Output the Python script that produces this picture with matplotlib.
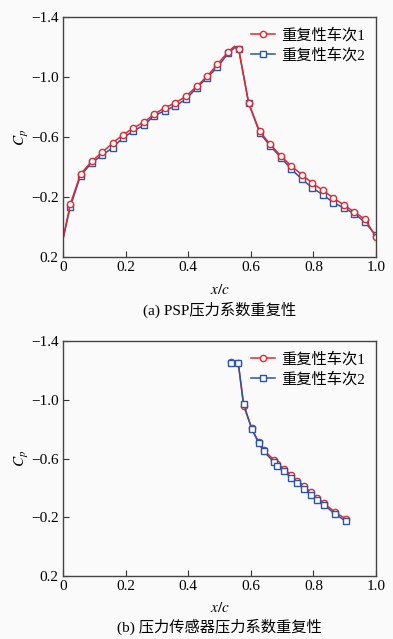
import matplotlib
matplotlib.use("Agg")
import matplotlib.pyplot as plt

plt.rcParams["font.family"] = ["Liberation Serif", "Noto Sans CJK SC"]
plt.rcParams["mathtext.fontset"] = "stix"
plt.rcParams["axes.unicode_minus"] = True

# ── panel (a): PSP ──────────────────────────────────────────────────────────
PSP_X = [0.0, 0.023, 0.056, 0.092, 0.125, 0.159, 0.192, 0.225, 0.259, 0.292,
         0.325, 0.359, 0.392, 0.427, 0.46, 0.493, 0.527, 0.548, 0.561, 0.593,
         0.628, 0.662, 0.696, 0.729, 0.764, 0.797, 0.83, 0.864, 0.897, 0.931,
         0.965, 0.999]
PSP_RUN1 = [0.08, -0.151, -0.353, -0.438, -0.498, -0.56, -0.615, -0.66, -0.70, -0.753,
            -0.795, -0.827, -0.871, -0.937, -1.004, -1.084, -1.167, -1.205, -1.189, -0.827,
            -0.638, -0.551, -0.473, -0.407, -0.347, -0.291, -0.245, -0.193, -0.147, -0.10,
            -0.051, 0.064]
PSP_RUN2 = [0.08, -0.133, -0.343, -0.428, -0.478, -0.53, -0.595, -0.64, -0.68, -0.743,
            -0.775, -0.807, -0.851, -0.927, -0.994, -1.064, -1.157, -1.195, -1.189, -0.827,
            -0.628, -0.541, -0.463, -0.387, -0.317, -0.261, -0.215, -0.163, -0.127, -0.09,
            -0.031, 0.054]
PSP_NOMARK = [0, 17]   # indices drawn without markers

# ── panel (b): pressure transducers ─────────────────────────────────────────
KUL_X = [0.537, 0.56, 0.577, 0.603, 0.625, 0.641, 0.674, 0.685, 0.707, 0.728,
         0.749, 0.77, 0.791, 0.81, 0.833, 0.868, 0.904]
KUL_RUN1 = [-1.258, -1.25, -0.96, -0.805, -0.712, -0.658, -0.59, -0.562, -0.53, -0.488,
            -0.45, -0.414, -0.371, -0.334, -0.298, -0.235, -0.189]
KUL_RUN2 = [-1.248, -1.248, -0.971, -0.803, -0.704, -0.650, -0.575, -0.55, -0.516, -0.47,
            -0.432, -0.395, -0.352, -0.32, -0.286, -0.224, -0.173]

LABELS = ["重复性车次1", "重复性车次2"]
XTICKS = [0, 0.2, 0.4, 0.6, 0.8, 1.0]
XTICKLABELS = ["0", "0.2", "0.4", "0.6", "0.8", "1.0"]
YTICKS = [-1.4, -1.0, -0.6, -0.2, 0.2]
YTICKLABELS = ["\u22121.4", "\u22121.0", "\u22120.6", "\u22120.2", "0.2"]

RED, BLUE = "#e8262b", "#2b55a8"
FS = 11

fig = plt.figure(figsize=(3.93, 6.39), dpi=100, facecolor="#fafafa")
ax1 = fig.add_axes([63 / 393, 1 - 257 / 639, 313 / 393, 240 / 639])
ax2 = fig.add_axes([63 / 393, 1 - 576 / 639, 313 / 393, 235 / 639])

mk1 = [i for i in range(len(PSP_X)) if i not in PSP_NOMARK]
ax1.plot(PSP_X, PSP_RUN2, color=BLUE, lw=1.1, marker="s", ms=4, mfc="white",
         mec=BLUE, mew=1.0, markevery=mk1, label=LABELS[1])
ax1.plot(PSP_X, PSP_RUN1, color=RED, lw=1.1, marker="o", ms=4.5, mfc="white",
         mec=RED, mew=1.0, markevery=mk1, label=LABELS[0])

ax2.plot(KUL_X, KUL_RUN1, color=RED, lw=1.1, marker="o", ms=4.5, mfc="white",
         mec=RED, mew=1.0, label=LABELS[0])
ax2.plot(KUL_X, KUL_RUN2, color=BLUE, lw=1.1, marker="s", ms=4, mfc="white",
         mec=BLUE, mew=1.0, label=LABELS[1])

for ax, cap, cy in [(ax1, "(a) PSP压力系数重复性", -0.22),
                    (ax2, "(b) 压力传感器压力系数重复性", -0.217)]:
    ax.set_facecolor("#fafafa")
    ax.set_xlim(0, 1.0)
    ax.set_ylim(0.2, -1.4)
    ax.set_xticks(XTICKS)
    ax.set_xticklabels(XTICKLABELS, fontsize=FS)
    ax.set_yticks(YTICKS)
    ax.set_yticklabels(YTICKLABELS, fontsize=FS)
    ax.tick_params(direction="in", length=4, width=0.8, color="#333333",
                   top=False, right=False, pad=3)
    for sp in ax.spines.values():
        sp.set_linewidth(1.0)
        sp.set_color("#444444")
    ax.set_xlabel(r"$x/c$", fontsize=FS, labelpad=6)
    ax.set_ylabel(r"$C_p$", fontsize=FS, labelpad=0)
    handles, labels = ax.get_legend_handles_labels()
    order = sorted(range(len(labels)), key=lambda i: labels[i])
    ax.legend([handles[i] for i in order], [labels[i] for i in order],
              loc="upper right", frameon=False, fontsize=FS, handlelength=1.6,
              handletextpad=0.4, labelspacing=0.35, borderaxespad=0.3)
    ax.text(0.5, cy, cap, transform=ax.transAxes, ha="center", va="center",
            fontsize=FS)

fig.savefig("out.png", dpi=100, facecolor=fig.get_facecolor())
